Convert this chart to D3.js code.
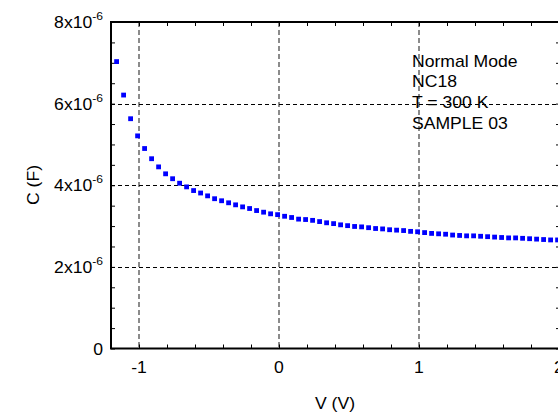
<!DOCTYPE html>
<html>
<head>
<meta charset="utf-8">
<script src="https://cdn.jsdelivr.net/npm/d3@7"></script>
<style>
  html, body { margin: 0; padding: 0; background: #fff; }
  svg { display: block; font-family: "Liberation Sans", Arial, sans-serif; }
</style>
</head>
<body>
<script>
const width = 558;
const height = 412;
const plotLeft = 111;
const plotRight = 559;
const plotTop = 22;
const plotBottom = 348.5;

// bias voltage (V) and capacitance (x1e-6 F)
const voltage = [
  -1.16, -1.11, -1.06, -1.01, -0.96, -0.91, -0.86, -0.81, -0.76, -0.71,
  -0.66, -0.61, -0.56, -0.51, -0.46, -0.41, -0.36, -0.31, -0.26, -0.21,
  -0.16, -0.11, -0.06, -0.01, 0.04, 0.09, 0.14, 0.19, 0.24, 0.29,
  0.34, 0.39, 0.44, 0.49, 0.54, 0.59, 0.64, 0.69, 0.74, 0.79,
  0.84, 0.89, 0.94, 0.99, 1.04, 1.09, 1.14, 1.19, 1.24, 1.29,
  1.34, 1.39, 1.44, 1.49, 1.54, 1.59, 1.64, 1.69, 1.74, 1.79,
  1.84, 1.89, 1.94, 1.99
];
const capacitance = [
  7.03, 6.21, 5.63, 5.21, 4.90, 4.65, 4.45, 4.28, 4.16, 4.05,
  3.96, 3.87, 3.81, 3.74, 3.67, 3.62, 3.57, 3.52, 3.47, 3.43,
  3.38, 3.34, 3.30, 3.28, 3.24, 3.21, 3.17, 3.16, 3.14, 3.11,
  3.08, 3.06, 3.03, 3.01, 2.99, 2.98, 2.96, 2.94, 2.93, 2.91,
  2.90, 2.89, 2.87, 2.86, 2.84, 2.82, 2.81, 2.80, 2.78, 2.77,
  2.76, 2.76, 2.75, 2.74, 2.73, 2.72, 2.71, 2.71, 2.70, 2.69,
  2.68, 2.67, 2.66, 2.66
];

const xTicks = [-1, 0, 1, 2];
const xMinorTicks = [-1.2, -0.8, -0.6, -0.4, -0.2, 0.2, 0.4, 0.6, 0.8, 1.2, 1.4, 1.6, 1.8];
const yTicks = [0, 2e-6, 4e-6, 6e-6, 8e-6];
const yTickMantissa = ["0", "2", "4", "6", "8"];
const yMinorTicks = [0.5e-6, 1e-6, 1.5e-6, 2.5e-6, 3e-6, 3.5e-6, 4.5e-6, 5e-6, 5.5e-6, 6.5e-6, 7e-6, 7.5e-6];
const notes = ["Normal Mode", "NC18", "T = 300 K", "SAMPLE 03"];

const stretch = 1.1;

function main() {
  const data = voltage.map((v, i) => ({ v, c: capacitance[i] * 1e-6 }));

  const svg = d3.select("body")
    .append("svg")
    .attr("width", width)
    .attr("height", height);

  const x = d3.scaleLinear().domain([-1.2, 2]).range([plotLeft, plotRight]);
  const y = d3.scaleLinear().domain([0, 8e-6]).range([plotBottom, plotTop]);

  // grid
  svg.append("g")
    .selectAll("line")
    .data(xTicks.filter(d => d > -1.2 && d < 2))
    .join("line")
    .attr("x1", d => x(d)).attr("x2", d => x(d))
    .attr("y1", plotTop).attr("y2", plotBottom)
    .attr("stroke", "#666")
    .attr("stroke-width", 1.5)
    .attr("stroke-dasharray", "5,3");

  svg.append("g")
    .selectAll("line")
    .data(yTicks.filter(d => d > 0 && d < 8e-6))
    .join("line")
    .attr("x1", plotLeft).attr("x2", plotRight)
    .attr("y1", d => Math.round(y(d)) + 0.5).attr("y2", d => Math.round(y(d)) + 0.5)
    .attr("stroke", "#000")
    .attr("stroke-width", 1)
    .attr("stroke-dasharray", "4,3");

  // inward ticks on all four sides
  const tickLen = 4;
  const allX = xTicks.concat(xMinorTicks);
  const allY = yTicks.concat(yMinorTicks);
  svg.append("g")
    .attr("transform", `translate(0,${plotBottom})`)
    .call(d3.axisBottom(x).tickValues(allX).tickSize(-tickLen).tickFormat(""))
    .call(g => g.select(".domain").remove());
  svg.append("g")
    .attr("transform", `translate(0,${plotTop})`)
    .call(d3.axisTop(x).tickValues(allX).tickSize(-tickLen).tickFormat(""))
    .call(g => g.select(".domain").remove());
  svg.append("g")
    .attr("transform", `translate(${plotLeft},0)`)
    .call(d3.axisLeft(y).tickValues(allY).tickSize(-tickLen).tickFormat(""))
    .call(g => g.select(".domain").remove());
  svg.append("g")
    .attr("transform", `translate(${plotRight + 1},0)`)
    .call(d3.axisRight(y).tickValues(allY).tickSize(-tickLen).tickFormat(""))
    .call(g => g.select(".domain").remove());

  // frame: left, top and bottom (right side falls just outside the page)
  svg.append("path")
    .attr("d", `M${plotRight + 2},${plotTop}H${plotLeft}V${plotBottom}H${plotRight + 2}`)
    .attr("fill", "none")
    .attr("stroke", "#000")
    .attr("stroke-width", 2);

  // x tick labels
  svg.append("g")
    .selectAll("g")
    .data(xTicks)
    .join("g")
    .attr("transform", d => `translate(${x(d)},373) scale(${stretch},1)`)
    .append("text")
    .attr("text-anchor", "middle")
    .attr("font-size", 16)
    .text(d => d);

  // y tick labels with superscript exponent
  const yLabels = svg.append("g")
    .selectAll("g")
    .data(yTicks)
    .join("g")
    .attr("transform", d => `translate(${plotLeft - 8},${y(d) + 6}) scale(${stretch},1)`)
    .append("text")
    .attr("text-anchor", "end")
    .attr("font-size", 16);
  yLabels.each(function (d, i) {
    const t = d3.select(this);
    if (d === 0) {
      t.text("0");
      return;
    }
    t.append("tspan").text(`${yTickMantissa[i]}x10`);
    t.append("tspan").attr("font-size", 11).attr("dy", -8).text("-6");
  });

  // axis titles
  svg.append("g")
    .attr("transform", `translate(335,408.5) scale(${stretch},1)`)
    .append("text")
    .attr("text-anchor", "middle")
    .attr("font-size", 16)
    .text("V (V)");

  svg.append("g")
    .attr("transform", `translate(39,185) rotate(-90) scale(${stretch},1)`)
    .append("text")
    .attr("text-anchor", "middle")
    .attr("font-size", 16)
    .text("C (F)");

  // data points
  const s = 4.8;
  svg.append("g")
    .selectAll("rect")
    .data(data)
    .join("rect")
    .attr("x", d => x(d.v) - s / 2)
    .attr("y", d => y(d.c) - s / 2)
    .attr("width", s)
    .attr("height", s)
    .attr("fill", "#0000ff");

  // annotation
  svg.append("g")
    .selectAll("g")
    .data(notes)
    .join("g")
    .attr("transform", (d, i) => `translate(412,${66.5 + i * 20.8}) scale(${stretch},1)`)
    .append("text")
    .attr("font-size", 16)
    .text(d => d);
}

main();
</script>
</body>
</html>
